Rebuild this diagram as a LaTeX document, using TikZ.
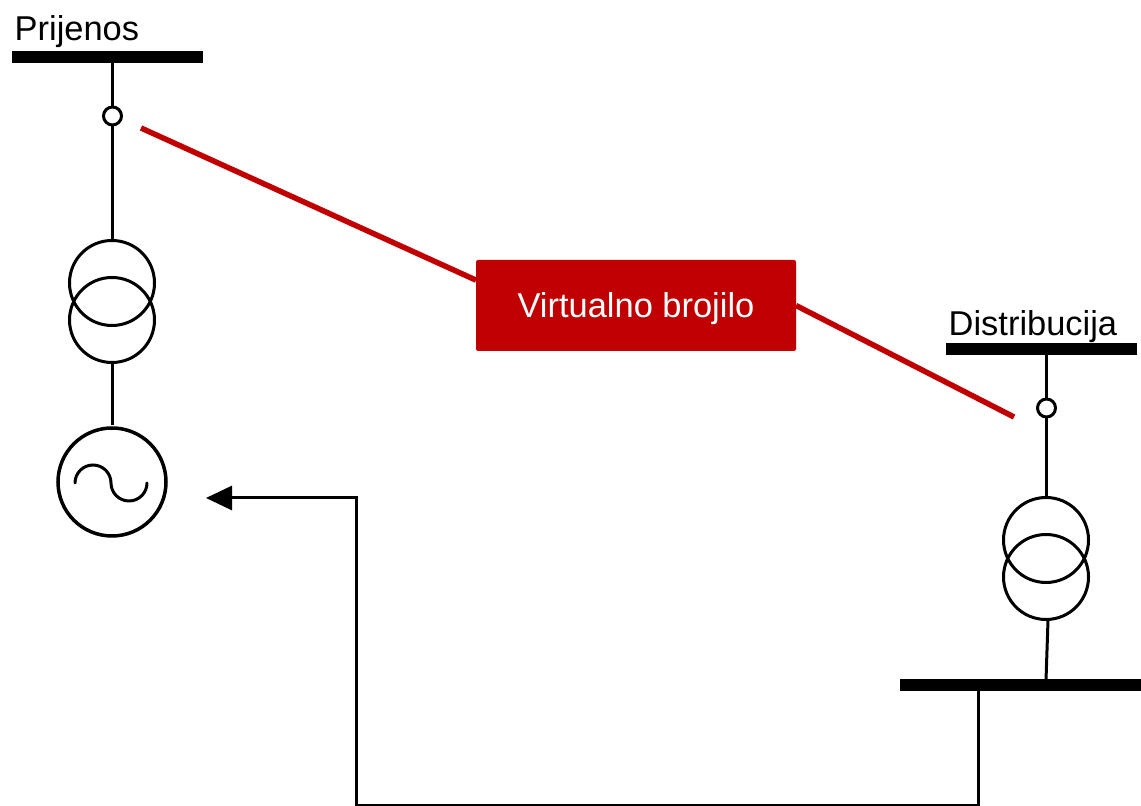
\documentclass[tikz,border=0pt]{standalone}
\usepackage{fontspec}
\setmainfont{Liberation Sans}
\usetikzlibrary{arrows.meta}
\definecolor{meterred}{RGB}{192,0,0}
\tikzset{
  busbar/.style={fill=black, inner sep=0pt, outer sep=0pt, minimum height=0.12cm},
  breaker/.style={circle, draw, fill=white, line width=0.03cm, inner sep=0pt, outer sep=0pt, minimum size=0.18cm},
  winding/.style={circle, draw, line width=0.03cm, inner sep=0pt, outer sep=0pt, minimum size=0.85cm},
  source/.style={circle, draw, line width=0.035cm, inner sep=0pt, outer sep=0pt, minimum size=1.08cm},
  busname/.style={anchor=base west, inner sep=0pt, font=\fontsize{9.8}{12}\selectfont},
  wire/.style={line width=0.03cm},
  virtual/.style={line width=0.055cm, meterred}
}
\begin{document}
\begin{tikzpicture}

\useasboundingbox (0,0) rectangle (11.41,8.06);

% busbars
\node[busbar, minimum width=1.91cm] (busP) at (1.075,7.49) {};
\node[busbar, minimum width=1.91cm] (busD) at (10.415,4.565) {};
\node[busbar, minimum width=2.41cm] (busL) at (10.205,1.205) {};

% lables
\node[busname] (nameP) at (0.14,7.65) {Prijenos};
\node[busname] (nameD) at (9.48,4.70) {Distribucija};

% left side
\node[breaker] (swP) at (1.125,6.90) {};
\node[winding] (trP1) at (1.12,5.23) {};
\node[winding] (trP2) at (1.12,4.86) {};
\node[source] (gen) at (1.12,3.24) {};

% right side
\node[breaker] (swD) at (10.465,3.98) {};
\node[winding] (trD1) at (10.46,2.66) {};
\node[winding] (trD2) at (10.46,2.29) {};

% wires
\draw[wire] (swP |- busP.south) -- (swP.north);
\draw[wire] (trP1.north -| swP.south) -- (swP.south);
\draw[wire] (trP2.south) -- (1.12,3.81);
\draw[wire] (swD |- busD.south) -- (swD.north);
\draw[wire] (trD1.north -| swD.south) -- (swD.south);
\coordinate (tapD) at (10.46,1.26);
\draw[wire] (10.48,1.86) -- (tapD);

% sine
\draw[line width=0.03cm, line cap=round] (0.75,3.23) arc[radius=0.18, start angle=180, end angle=0]
  arc[radius=0.18, start angle=180, end angle=360];

% virtual meter
\node[fill=meterred, text=white, rounded corners=0.02cm, minimum width=3.2cm, minimum height=0.91cm,
  inner sep=0pt, outer sep=0pt, text height=0.31cm, text depth=0.07cm,
  font=\fontsize{9.8}{12}\selectfont] (meter) at (6.36,5.005) {Virtualno brojilo};
\coordinate (endP) at (1.41,6.78);
\coordinate (endD) at (10.14,3.89);
\draw[virtual] (endP) -- (meter.171);
\draw[virtual] (meter.east) -- (endD);

% feedback
\coordinate (tapL) at (9.78,1.15);
\coordinate (tip) at (2.06,3.08);
\draw[wire, -{Triangle[length=0.26cm, width=0.24cm]}] (tapL) -- (9.78,0.0) -- (3.56,0.0) -- (3.56,3.08) -- (tip);

\end{tikzpicture}
\end{document}
